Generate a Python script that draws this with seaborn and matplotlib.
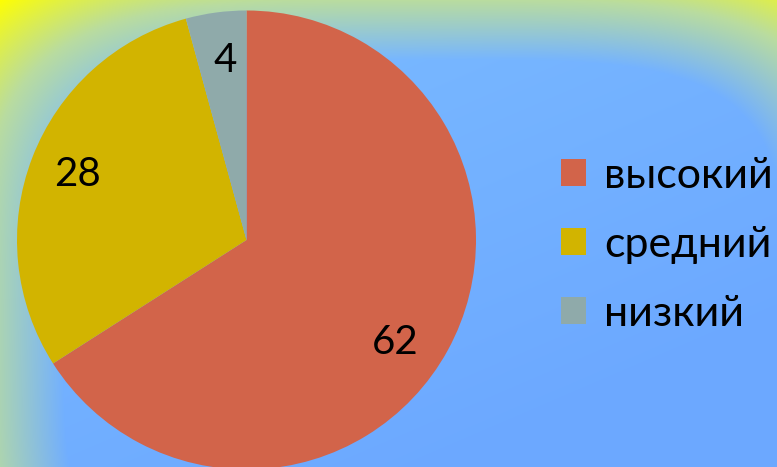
import numpy as np
import matplotlib
matplotlib.use("Agg")
import matplotlib.pyplot as plt
import seaborn as sns
from matplotlib.patches import Patch

categories = ["высокий", "средний", "низкий"]
values = [62, 28, 4]
colors = ["#D2644A", "#D2B400", "#8FAAAA"]

sns.set_theme(style="white")
plt.rcParams['font.family'] = ['Lato', 'DejaVu Sans']

W, H = 777, 467
fig = plt.figure(figsize=(W / 100, H / 100), dpi=100)

# background gradient
bg = fig.add_axes([0, 0, 1, 1])
yy, xx = np.mgrid[0:H, 0:W].astype(float)
cxg = 430.0
u = np.where(xx < cxg, (xx - cxg) / (cxg * 1.04), (xx - cxg) / ((W - cxg) * 1.25))
v = (yy - 330) / 330
r = (np.abs(u) ** 4 + np.abs(v) ** 4) ** 0.25
blue_top = np.array([125, 190, 255]) / 255
blue_bot = np.array([108, 168, 255]) / 255
frac = np.clip((xx / W * 0.5 + yy / H * 0.7), 0, 1)[..., None]
blue = blue_top * (1 - frac) + blue_bot * frac
green = np.array([185, 220, 160]) / 255
yellow = np.array([255, 255, 0]) / 255
t1 = np.clip((r - 0.82) / (1.0 - 0.82), 0, 1)[..., None]
t2 = np.clip((r - 1.0) / (1.17 - 1.0), 0, 1)[..., None]
img = blue * (1 - t1) + green * t1
img = img * (1 - t2) + yellow * t2
bg.imshow(img, extent=[0, W, H, 0], aspect="auto")
bg.set_xlim(0, W)
bg.set_ylim(H, 0)
bg.axis("off")

# pie
cx, cy, R = 246.5, 240, 229.5
ax = fig.add_axes([(cx - R) / W, (H - cy - R) / H, 2 * R / W, 2 * R / H])
wedges, _ = ax.pie(values, colors=colors, startangle=90, counterclock=False,
                   radius=1.0, wedgeprops=dict(linewidth=0))
ax.set_xlim(-1, 1)
ax.set_ylim(-1, 1)
ax.set_aspect("auto")
ax.axis("off")

label_pos = [(395, 343), (78, 175), (225, 60)]
for val, (px, py) in zip(values, label_pos):
    ax.text((px - cx) / R, (cy - py) / R, str(val), ha="center", va="center",
            fontsize=29, color="black")

handles = [Patch(facecolor=c, edgecolor="none") for c in colors]
fig.legend(handles, categories, loc="center left",
           bbox_to_anchor=(561 / W, 1 - 245 / H), frameon=False,
           fontsize=31, labelcolor="black",
           handlelength=0.58, handleheight=0.58,
           handletextpad=0.43, labelspacing=0.72, borderaxespad=0,
           borderpad=0)

fig.savefig("out.png", dpi=100)
